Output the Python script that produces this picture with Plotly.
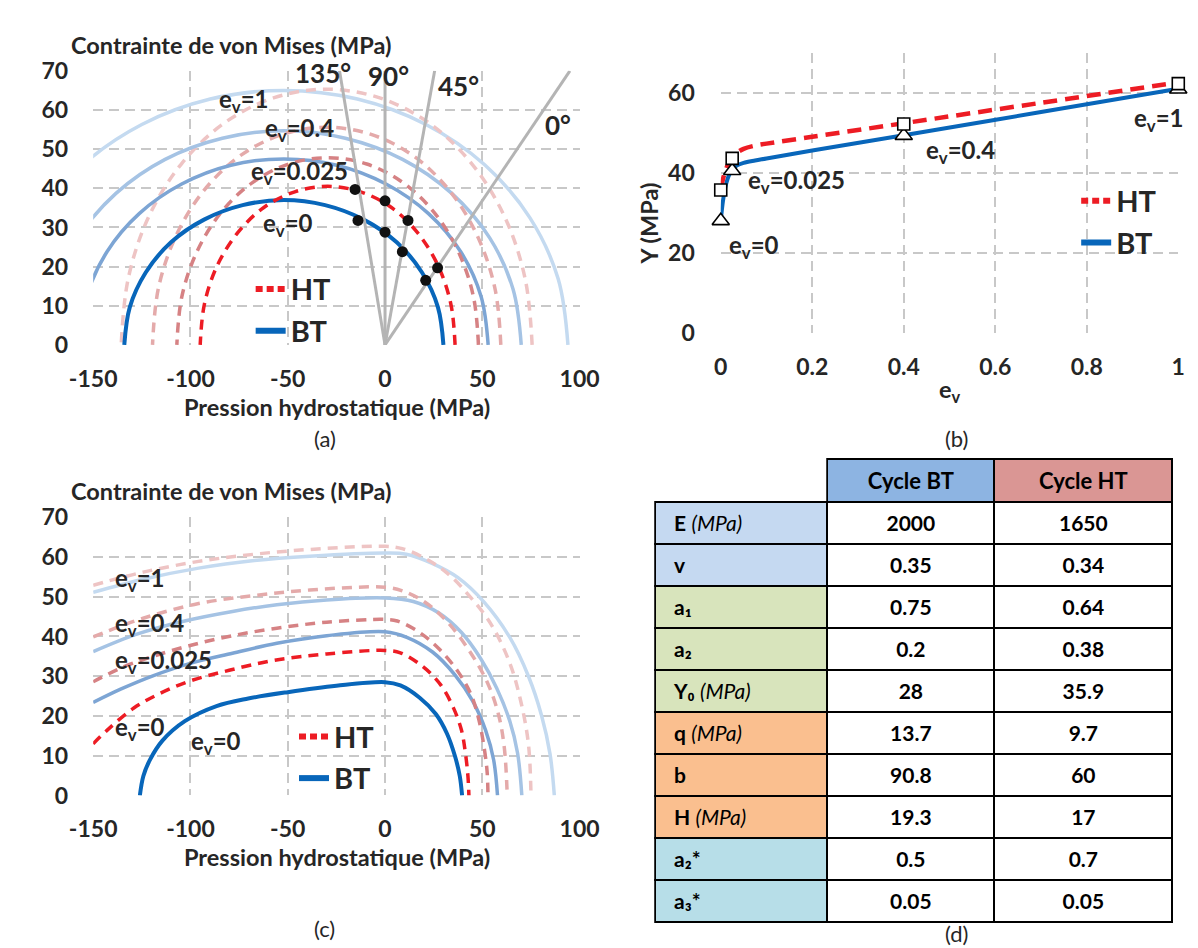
import plotly.graph_objects as go

W, H = 1198, 948
FONT = "Lato"
TXT = "#262626"

# ---------------- colours ----------------
bt_colors = ["rgb(8,102,186)", "rgb(125,165,212)", "rgb(165,195,228)", "rgb(196,218,240)"]
ht_colors = ["rgb(237,28,36)", "rgb(214,130,132)", "rgb(228,170,170)", "rgb(238,196,196)"]
bt_widths = [4, 3.5, 3.5, 3.5]

# ---------------- axis ticks ----------------
p_ticks = [-150, -100, -50, 0, 50, 100]
p_ticktext = ["-150", "-100", "-50", "0", "50", "100"]
q_ticks = [0, 10, 20, 30, 40, 50, 60, 70]
ev_ticks = [0, 0.2, 0.4, 0.6, 0.8, 1]
ev_ticktext = ["0", "0.2", "0.4", "0.6", "0.8", "1"]
Y_ticks = [0, 20, 40, 60]

# ---------------- panel (a) : yield surfaces ----------------
a_bt0_p = [30, 27.2, 19.0, 6.0, -11, -30.8, -52, -73.2, -93, -110, -123, -131.2, -134]
a_bt0_q = [0, 9.6, 18.5, 26.2, 32.0, 35.7, 37, 35.7, 32.0, 26.2, 18.5, 9.6, 0]
a_bt1_p = [53, 49.4, 38.9, 22.2, 0.5, -24.8, -52, -79.2, -104.5, -126.2, -142.9, -153.4, -157]
a_bt1_q = [0, 12.3, 23.8, 33.6, 41.1, 45.9, 47.5, 45.9, 41.1, 33.6, 23.8, 12.3, 0]
a_bt2_p = [70, 65.8, 53.7, 34.3, 9, -20.4, -52, -83.6, -113, -138.3, -157.7, -169.8, -174]
a_bt2_q = [0, 14.2, 27.4, 38.7, 47.4, 52.8, 54.7, 52.8, 47.4, 38.7, 27.4, 14.2, 0]
a_bt3_p = [94, 89, 74.4, 51.2, 21, -14.2, -52, -89.8, -125, -155.2, -178.4, -193, -198]
a_bt3_q = [0, 16.8, 32.5, 46.0, 56.3, 62.8, 65, 62.8, 56.3, 46.0, 32.5, 16.8, 0]

a_ht0_p = [36, 33.8, 27.2, 16.8, 3.3, -12.6, -29.5, -46.4, -62.3, -75.8, -86.2, -92.8, -95]
a_ht0_q = [0, 10.5, 20.3, 28.6, 35.1, 39.1, 40.5, 39.1, 35.1, 28.6, 20.3, 10.5, 0]
a_ht1_p = [48, 45.4, 37.6, 25.3, 9.3, -9.4, -29.5, -49.6, -68.3, -84.3, -96.6, -104.4, -107]
a_ht1_q = [0, 12.4, 23.9, 33.8, 41.4, 46.2, 47.8, 46.2, 41.4, 33.8, 23.9, 12.4, 0]
a_ht2_p = [59.5, 56.5, 47.5, 33.3, 14.8, -6.8, -30, -53.2, -74.8, -93.3, -107.5, -116.5, -119.5]
a_ht2_q = [0, 14.4, 27.8, 39.3, 48.2, 53.7, 55.6, 53.7, 48.2, 39.3, 27.8, 14.4, 0]
a_ht3_p = [75.6, 72.0, 61.5, 44.7, 22.8, -2.7, -30, -57.3, -82.8, -104.7, -121.5, -132.0, -135.6]
a_ht3_q = [0, 16.9, 32.7, 46.2, 56.6, 63.1, 65.3, 63.1, 56.6, 46.2, 32.7, 16.9, 0]

ray_labels = ["135°", "90°", "45°", "0°"]
ray_end_p = [-23.4, 0, 25.5, 95]
ray_end_q = [70, 70, 70, 70]
ray_label_p = [-32, 1.7, 37.9, 88.9]
ray_label_q = [69.4, 68.6, 66.1, 56.2]

dot_ht_p = [-15.4, 0, 11.8, 27.0]
dot_ht_q = [39.7, 36.8, 31.8, 19.7]
dot_bt_p = [-13.9, 0, 8.9, 20.9]
dot_bt_q = [31.8, 28.8, 23.8, 16.5]

ev_texts = ["e<sub>v</sub>=0", "e<sub>v</sub>=0.025", "e<sub>v</sub>=0.4", "e<sub>v</sub>=1"]
a_lab_p = [-49.7, -44, -44, -72.5]
a_lab_q = [30.8, 44, 55, 62.4]

# ---------------- panel (b) : hardening ----------------
b_ev = [0, 0.005, 0.01, 0.015, 0.02, 0.025, 0.035, 0.05, 0.075, 0.1, 0.2, 0.4, 0.7, 1]
b_bt_Y = [28, 33.1, 36.4, 38.5, 39.9, 40.8, 41.8, 42.5, 43.1, 43.6, 45.6, 49.4, 55.2, 61.0]
b_ht_Y = [35.9, 38.5, 40.4, 41.9, 43.0, 43.9, 45.0, 46.0, 46.8, 47.3, 49.0, 52.4, 57.5, 62.6]
b_mark_ev = [0, 0.025, 0.4, 1]
b_bt_mark = [28, 40.5, 49.3, 60.9]
b_ht_mark = [35.7, 43.6, 52.2, 62.3]
b_lab_ev = [0.073, 0.166, 0.525, 0.958]
b_lab_Y = [21.7, 37.8, 45.3, 53.3]

# ---------------- panel (c) : yield surfaces ----------------
c_bt0_p = [-126, -124.2, -120.9, -114.4, -102.9, -86.6, -70.3, -50, -25, 0, 7.9, 17.8, 26.1, 31.8, 36, 38.4, 39.6]
c_bt0_q = [0, 4.9, 8.9, 13.8, 18.7, 22.5, 24.4, 26.0, 27.6, 28.5, 27.7, 24.6, 20.5, 15.6, 9.8, 4.9, 0]
c_ht0_p = [-150, -142.2, -129.1, -116, -99.7, -80.1, -57.2, -30, 0, 7.9, 19.5, 28.5, 35.1, 39.3, 41.3, 42.6, 43.1]
c_ht0_q = [13, 16.7, 22, 25.6, 28.9, 31.5, 34, 35.6, 36.5, 35.9, 32.4, 27.9, 22.1, 16.4, 10.7, 4.9, 0]
c_bt1_p = [-150, -135.6, -119.3, -99.7, -78.4, -55.6, -30, 0, 11.2, 24.4, 36, 45, 51.7, 55.8, 57.8]
c_bt1_q = [23.4, 26.8, 30.1, 33.3, 35.8, 38.3, 40.2, 41.2, 39.8, 36.1, 30.3, 23.8, 16.4, 9.0, 0]
c_ht1_p = [-150, -135.6, -119.3, -99.7, -78.4, -55.6, -30, 0, 6.3, 17.8, 27.7, 37.6, 44.2, 48.3, 51.1, 52.5, 52.9]
c_ht1_q = [28.6, 32.1, 35, 37.8, 40.2, 42.1, 43.6, 44.3, 43.9, 41, 36.9, 31.1, 25.4, 18.9, 11.5, 5.7, 0]
c_bt2_p = [-150, -127.5, -103, -78.4, -55.6, -30, 0, 14.5, 27.7, 39.3, 49.2, 57.4, 64, 68.1, 70.3]
c_bt2_q = [36.2, 40.6, 43.9, 46.3, 48, 49.2, 49.7, 48.8, 45.9, 41, 34.4, 27, 18.9, 10.7, 0]
c_ht2_p = [-150, -124.3, -95.8, -67.2, -38.7, 0, 8.9, 20.4, 31.8, 43.2, 52.7, 58.4, 61.3, 62.8]
c_ht2_q = [39.9, 44.6, 48.3, 50.3, 51.7, 52.4, 51.5, 48.7, 43.8, 36.5, 28.3, 20.2, 12, 0]
c_bt3_p = [-150, -124.3, -95.8, -67.2, -38.7, 0, 10.9, 24.2, 37.5, 50.8, 64.2, 73.7, 80.4, 84.8, 87]
c_bt3_q = [51.1, 54.4, 57.2, 59.1, 60.2, 61, 60.7, 58.4, 54.8, 48.7, 39.7, 30, 20.2, 10.4, 0]
c_ht3_p = [-150, -124.3, -95.8, -67.2, -38.7, 0, 8.9, 20.4, 31.8, 43.2, 54.6, 64.2, 69.9, 73.7, 75]
c_ht3_q = [52.9, 56.2, 58.9, 60.7, 61.9, 62.7, 62.1, 59.7, 56, 50.3, 43, 33.2, 23.4, 12.9, 0]

c_lab_texts = ["e<sub>v</sub>=0", "e<sub>v</sub>=0.025", "e<sub>v</sub>=0.4", "e<sub>v</sub>=1", "e<sub>v</sub>=0"]
c_lab_p = [-139.9, -139.9, -139.9, -139.9, -100.5]
c_lab_q = [16.9, 33.6, 43.0, 54.4, 13.3]

# ---------------- panel (d) : parameters table ----------------
table_header = ["", "<b>Cycle BT</b>", "<b>Cycle HT</b>"]
param_labels = ["<b>E</b> <i>(MPa)</i>", "<b>v</b>", "<b>a₁</b>", "<b>a₂</b>",
                "<b>Y₀</b> <i>(MPa)</i>", "<b>q</b> <i>(MPa)</i>", "<b>b</b>",
                "<b>H</b> <i>(MPa)</i>", "<b>a₂*</b>", "<b>a₃*</b>"]
bt_values = ["2000", "0.35", "0.75", "0.2", "28", "13.7", "90.8", "19.3", "0.5", "0.05"]
ht_values = ["1650", "0.34", "0.64", "0.38", "35.9", "9.7", "60", "17", "0.7", "0.05"]
label_colors = ["rgb(197,217,241)"] * 2 + ["rgb(216,228,188)"] * 3 + ["rgb(250,191,143)"] * 3 + ["rgb(183,222,232)"] * 2

fig = go.Figure()


def curve(x, y, color, width, dash, xa, ya, shape="spline"):
    fig.add_trace(go.Scatter(x=x, y=y, mode="lines", xaxis=xa, yaxis=ya, showlegend=False,
                             hoverinfo="skip",
                             line=dict(color=color, width=width, dash=dash, shape=shape)))


HT_DASH = "10px,7px"

# panel (a)
a_bt = [(a_bt3_p, a_bt3_q), (a_bt2_p, a_bt2_q), (a_bt1_p, a_bt1_q), (a_bt0_p, a_bt0_q)]
a_ht = [(a_ht3_p, a_ht3_q), (a_ht2_p, a_ht2_q), (a_ht1_p, a_ht1_q), (a_ht0_p, a_ht0_q)]
for i in range(4):
    k = 3 - i
    curve(*a_bt[i], bt_colors[k], bt_widths[k], "solid", "x", "y")
    curve(*a_ht[i], ht_colors[k], 3.5, HT_DASH, "x", "y")
for pe, qe in zip(ray_end_p, ray_end_q):
    curve([0, pe], [0, qe], "rgb(180,180,180)", 3, "solid", "x", "y", shape="linear")
fig.add_trace(go.Scatter(x=dot_ht_p + dot_bt_p, y=dot_ht_q + dot_bt_q, mode="markers",
                         xaxis="x", yaxis="y", showlegend=False, hoverinfo="skip",
                         marker=dict(color="#111", size=11)))

# panel (c)
c_bt = [(c_bt3_p, c_bt3_q), (c_bt2_p, c_bt2_q), (c_bt1_p, c_bt1_q), (c_bt0_p, c_bt0_q)]
c_ht = [(c_ht3_p, c_ht3_q), (c_ht2_p, c_ht2_q), (c_ht1_p, c_ht1_q), (c_ht0_p, c_ht0_q)]
for i in range(4):
    k = 3 - i
    curve(*c_bt[i], bt_colors[k], bt_widths[k], "solid", "x3", "y3")
    curve(*c_ht[i], ht_colors[k], 3.5, HT_DASH, "x3", "y3")

# panel (b)
curve(b_ev, b_bt_Y, bt_colors[0], 4, "solid", "x2", "y2")
curve(b_ev, b_ht_Y, ht_colors[0], 4.5, "14px,8px", "x2", "y2")
fig.add_trace(go.Scatter(x=b_mark_ev, y=b_bt_mark, mode="markers", xaxis="x2", yaxis="y2",
                         showlegend=False, hoverinfo="skip", cliponaxis=False,
                         marker=dict(symbol="triangle-up", size=15, color="white",
                                     line=dict(color="black", width=1.6))))
fig.add_trace(go.Scatter(x=b_mark_ev, y=b_ht_mark, mode="markers", xaxis="x2", yaxis="y2",
                         showlegend=False, hoverinfo="skip", cliponaxis=False,
                         marker=dict(symbol="square", size=12, color="white",
                                     line=dict(color="black", width=1.6))))

# legends (one per chart)
for lg, xa, ya in [("legend", "x", "y"), ("legend2", "x2", "y2"), ("legend3", "x3", "y3")]:
    fig.add_trace(go.Scatter(x=[None], y=[None], mode="lines", name="HT", legend=lg,
                             legendgroup=lg + "ht", xaxis=xa, yaxis=ya,
                             line=dict(color=ht_colors[0], width=6, dash="7px,4px")))
    fig.add_trace(go.Scatter(x=[None], y=[None], mode="lines", name="BT", legend=lg,
                             legendgroup=lg + "bt", xaxis=xa, yaxis=ya,
                             line=dict(color=bt_colors[0], width=6)))

# table (d)
fig.add_trace(go.Table(
    domain=dict(x=[647 / W, 1184.5 / W], y=[1 - 946 / H, 1 - 449 / H]),
    columnwidth=[179, 174, 185],
    header=dict(values=table_header,
                fill=dict(color=["rgba(0,0,0,0)", "rgb(141,180,226)", "rgb(218,150,148)"]),
                line=dict(color=["white", "black", "black"], width=[0, 2, 2]),
                align="center", height=42,
                font=dict(family=FONT, size=22, color="black")),
    cells=dict(values=[["\u00a0\u00a0" + s for s in param_labels], ["<b>%s</b>" % v for v in bt_values],
                       ["<b>%s</b>" % v for v in ht_values]],
               fill=dict(color=[label_colors, ["white"] * len(bt_values), ["white"] * len(ht_values)]),
               line=dict(color="black", width=2),
               align=["left", "center", "center"], height=42,
               font=dict(family=FONT, size=21, color="black")),
))

# ---------------- axes ----------------
tickfont = dict(family=FONT, size=23, color=TXT, weight="bold")
grid = dict(showgrid=True, gridcolor="rgb(200,200,200)", gridwidth=1.5, griddash="10px,6px",
            zeroline=False, showline=False, ticks="", tickfont=tickfont, fixedrange=True,
            tickmode="array")

fig.update_layout(
    width=W, height=H, margin=dict(l=0, r=0, t=0, b=0), autosize=False,
    paper_bgcolor="white", plot_bgcolor="white", hovermode=False,
    font=dict(family=FONT, color=TXT),
    xaxis=dict(domain=[63.5 / W, 568.5 / W], range=[-150, 100], tickvals=p_ticks,
               ticktext=p_ticktext, anchor="y", ticklabelstandoff=18, **grid),
    yaxis=dict(domain=[1 - 331.7 / H, 1 - 49.3 / H], range=[0, 70], tickvals=q_ticks,
               anchor="x", ticklabelstandoff=24, **grid),
    xaxis2=dict(domain=[715 / W, 1190 / W], range=[0, 1], tickvals=ev_ticks, ticktext=ev_ticktext,
                anchor="y2", ticklabelstandoff=18, **grid),
    yaxis2=dict(domain=[1 - 319.3 / H, 1 - 30.7 / H], range=[0, 70], tickvals=Y_ticks,
                anchor="x2", ticklabelstandoff=25, **grid),
    xaxis3=dict(domain=[63.5 / W, 568.5 / W], range=[-150, 100], tickvals=p_ticks,
                ticktext=p_ticktext, anchor="y3", ticklabelstandoff=18, **grid),
    yaxis3=dict(domain=[1 - 796 / H, 1 - 509.3 / H], range=[0, 70], tickvals=q_ticks,
                anchor="x3", ticklabelstandoff=24, **grid),
)

legfont = dict(family=FONT, size=29, color=TXT, weight="bold")
legcommon = dict(font=legfont, bgcolor="rgba(0,0,0,0)", tracegroupgap=1, itemclick=False,
                 itemdoubleclick=False, xanchor="left", yanchor="top", orientation="v")
fig.update_layout(
    legend=dict(x=227 / W, y=1 - 248 / H, **legcommon),
    legend2=dict(x=1084 / W, y=1 - 157 / H, **legcommon),
    legend3=dict(x=272 / W, y=1 - 709 / H, **legcommon),
)

# ---------------- annotations ----------------
ann = []
labfont = dict(family=FONT, size=24, color=TXT, weight="bold")
for t, p, q in zip(ev_texts, a_lab_p, a_lab_q):
    ann.append(dict(text=t, x=p, y=q, xref="x", yref="y", showarrow=False, font=labfont))
for t, p, q in zip(ray_labels, ray_label_p, ray_label_q):
    ann.append(dict(text=t, x=p, y=q, xref="x", yref="y", showarrow=False,
                    font=dict(family=FONT, size=26, color=TXT, weight="bold")))
for t, p, q in zip(ev_texts, b_lab_ev, b_lab_Y):
    ann.append(dict(text=t, x=p, y=q, xref="x2", yref="y2", showarrow=False, font=labfont))
for t, p, q in zip(c_lab_texts, c_lab_p, c_lab_q):
    ann.append(dict(text=t, x=p, y=q, xref="x3", yref="y3", showarrow=False, xanchor="left",
                    font=labfont))

titfont = dict(family=FONT, size=23.5, color=TXT, weight="bold")
capfont = dict(family=FONT, size=22, color=TXT, weight="normal")
paper_text = [
    ("Contrainte de von Mises (MPa)", 207, 22.7, titfont, 0),
    ("Pression hydrostatique (MPa)", 317, 396, titfont, 0),
    ("(a)", 304, 428, capfont, 0),
    ("Y (MPa)", 640, 206, titfont, -90),
    ("e<sub>v</sub>", 953, 379, titfont, 0),
    ("(b)", 960, 428, capfont, 0),
    ("Contrainte de von Mises (MPa)", 207, 482.7, titfont, 0),
    ("Pression hydrostatique (MPa)", 317, 859.5, titfont, 0),
    ("(c)", 304, 933, capfont, 0),
    ("(d)", 960, 938, capfont, 0),
]
for t, px, py, f, ang in paper_text:
    ann.append(dict(text=t, x=px / W, y=1 - py / H, xref="paper", yref="paper", showarrow=False,
                    xanchor="center", yanchor="middle", font=f, textangle=ang))
fig.update_layout(annotations=ann)

fig.write_html("out.html")
